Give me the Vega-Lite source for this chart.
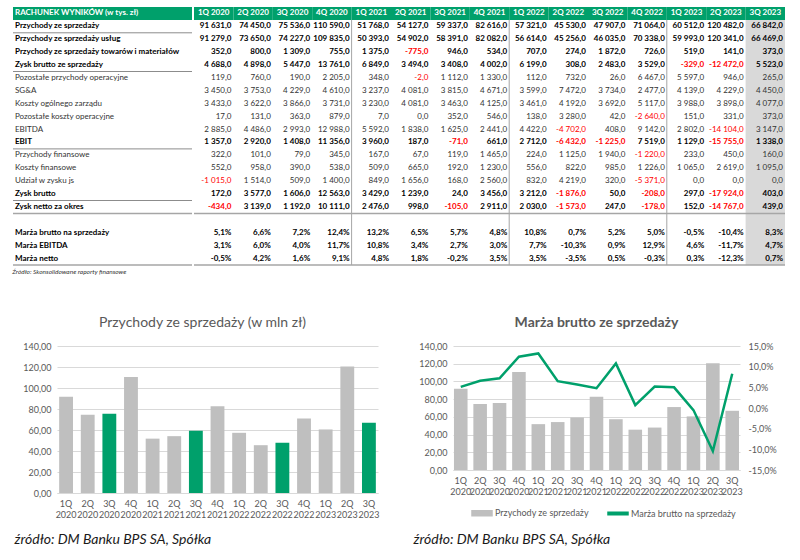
{
  "$schema": "https://vega.github.io/schema/vega-lite/v6.json",
  "padding": {"left": 12, "top": 7, "right": 0, "bottom": 0},
  "background": "white",
  "datasets": {
    "tbl": [
      {"item": "Przychody ze sprzedaży", "1Q 2020": "91 631,0", "2Q 2020": "74 450,0", "3Q 2020": "75 536,0", "4Q 2020": "110 590,0", "1Q 2021": "51 768,0", "2Q 2021": "54 127,0", "3Q 2021": "59 337,0", "4Q 2021": "82 616,0", "1Q 2022": "57 321,0", "2Q 2022": "45 530,0", "3Q 2022": "47 907,0", "4Q 2022": "71 064,0", "1Q 2023": "60 512,0", "2Q 2023": "120 482,0", "3Q 2023": "66 842,0"},
      {"item": "Przychody ze sprzedaży usług", "1Q 2020": "91 279,0", "2Q 2020": "73 650,0", "3Q 2020": "74 227,0", "4Q 2020": "109 835,0", "1Q 2021": "50 393,0", "2Q 2021": "54 902,0", "3Q 2021": "58 391,0", "4Q 2021": "82 082,0", "1Q 2022": "56 614,0", "2Q 2022": "45 256,0", "3Q 2022": "46 035,0", "4Q 2022": "70 338,0", "1Q 2023": "59 993,0", "2Q 2023": "120 341,0", "3Q 2023": "66 469,0"},
      {"item": "Przychody ze sprzedaży towarów i materiałów", "1Q 2020": "352,0", "2Q 2020": "800,0", "3Q 2020": "1 309,0", "4Q 2020": "755,0", "1Q 2021": "1 375,0", "2Q 2021": "-775,0", "3Q 2021": "946,0", "4Q 2021": "534,0", "1Q 2022": "707,0", "2Q 2022": "274,0", "3Q 2022": "1 872,0", "4Q 2022": "726,0", "1Q 2023": "519,0", "2Q 2023": "141,0", "3Q 2023": "373,0"},
      {"item": "Zysk brutto ze sprzedaży", "1Q 2020": "4 688,0", "2Q 2020": "4 898,0", "3Q 2020": "5 447,0", "4Q 2020": "13 761,0", "1Q 2021": "6 849,0", "2Q 2021": "3 494,0", "3Q 2021": "3 408,0", "4Q 2021": "4 002,0", "1Q 2022": "6 199,0", "2Q 2022": "308,0", "3Q 2022": "2 483,0", "4Q 2022": "3 529,0", "1Q 2023": "-329,0", "2Q 2023": "-12 472,0", "3Q 2023": "5 523,0"},
      {"item": "Pozostałe przychody operacyjne", "1Q 2020": "119,0", "2Q 2020": "760,0", "3Q 2020": "190,0", "4Q 2020": "2 205,0", "1Q 2021": "348,0", "2Q 2021": "-2,0", "3Q 2021": "1 112,0", "4Q 2021": "1 330,0", "1Q 2022": "112,0", "2Q 2022": "732,0", "3Q 2022": "26,0", "4Q 2022": "6 467,0", "1Q 2023": "5 597,0", "2Q 2023": "946,0", "3Q 2023": "265,0"},
      {"item": "SG&A", "1Q 2020": "3 450,0", "2Q 2020": "3 753,0", "3Q 2020": "4 229,0", "4Q 2020": "4 610,0", "1Q 2021": "3 237,0", "2Q 2021": "4 081,0", "3Q 2021": "3 815,0", "4Q 2021": "4 671,0", "1Q 2022": "3 599,0", "2Q 2022": "7 472,0", "3Q 2022": "3 734,0", "4Q 2022": "2 477,0", "1Q 2023": "4 139,0", "2Q 2023": "4 229,0", "3Q 2023": "4 450,0"},
      {"item": "Koszty ogólnego zarządu", "1Q 2020": "3 433,0", "2Q 2020": "3 622,0", "3Q 2020": "3 866,0", "4Q 2020": "3 731,0", "1Q 2021": "3 230,0", "2Q 2021": "4 081,0", "3Q 2021": "3 463,0", "4Q 2021": "4 125,0", "1Q 2022": "3 461,0", "2Q 2022": "4 192,0", "3Q 2022": "3 692,0", "4Q 2022": "5 117,0", "1Q 2023": "3 988,0", "2Q 2023": "3 898,0", "3Q 2023": "4 077,0"},
      {"item": "Pozostałe koszty operacyjne", "1Q 2020": "17,0", "2Q 2020": "131,0", "3Q 2020": "363,0", "4Q 2020": "879,0", "1Q 2021": "7,0", "2Q 2021": "0,0", "3Q 2021": "352,0", "4Q 2021": "546,0", "1Q 2022": "138,0", "2Q 2022": "3 280,0", "3Q 2022": "42,0", "4Q 2022": "-2 640,0", "1Q 2023": "151,0", "2Q 2023": "331,0", "3Q 2023": "373,0"},
      {"item": "EBITDA", "1Q 2020": "2 885,0", "2Q 2020": "4 486,0", "3Q 2020": "2 993,0", "4Q 2020": "12 988,0", "1Q 2021": "5 592,0", "2Q 2021": "1 838,0", "3Q 2021": "1 625,0", "4Q 2021": "2 441,0", "1Q 2022": "4 422,0", "2Q 2022": "-4 702,0", "3Q 2022": "408,0", "4Q 2022": "9 142,0", "1Q 2023": "2 802,0", "2Q 2023": "-14 104,0", "3Q 2023": "3 147,0"},
      {"item": "EBIT", "1Q 2020": "1 357,0", "2Q 2020": "2 920,0", "3Q 2020": "1 408,0", "4Q 2020": "11 356,0", "1Q 2021": "3 960,0", "2Q 2021": "187,0", "3Q 2021": "-71,0", "4Q 2021": "661,0", "1Q 2022": "2 712,0", "2Q 2022": "-6 432,0", "3Q 2022": "-1 225,0", "4Q 2022": "7 519,0", "1Q 2023": "1 129,0", "2Q 2023": "-15 755,0", "3Q 2023": "1 338,0"},
      {"item": "Przychody finansowe", "1Q 2020": "322,0", "2Q 2020": "101,0", "3Q 2020": "79,0", "4Q 2020": "345,0", "1Q 2021": "167,0", "2Q 2021": "67,0", "3Q 2021": "119,0", "4Q 2021": "1 465,0", "1Q 2022": "224,0", "2Q 2022": "1 125,0", "3Q 2022": "1 940,0", "4Q 2022": "-1 220,0", "1Q 2023": "233,0", "2Q 2023": "450,0", "3Q 2023": "160,0"},
      {"item": "Koszty finansowe", "1Q 2020": "552,0", "2Q 2020": "958,0", "3Q 2020": "390,0", "4Q 2020": "538,0", "1Q 2021": "509,0", "2Q 2021": "665,0", "3Q 2021": "192,0", "4Q 2021": "1 230,0", "1Q 2022": "556,0", "2Q 2022": "822,0", "3Q 2022": "985,0", "4Q 2022": "1 226,0", "1Q 2023": "1 065,0", "2Q 2023": "2 619,0", "3Q 2023": "1 095,0"},
      {"item": "Udział w zysku js", "1Q 2020": "-1 015,0", "2Q 2020": "1 514,0", "3Q 2020": "509,0", "4Q 2020": "1 400,0", "1Q 2021": "849,0", "2Q 2021": "1 656,0", "3Q 2021": "168,0", "4Q 2021": "2 560,0", "1Q 2022": "832,0", "2Q 2022": "4 219,0", "3Q 2022": "320,0", "4Q 2022": "-5 371,0", "1Q 2023": "0,0", "2Q 2023": "0,0", "3Q 2023": "0,0"},
      {"item": "Zysk brutto", "1Q 2020": "172,0", "2Q 2020": "3 577,0", "3Q 2020": "1 606,0", "4Q 2020": "12 563,0", "1Q 2021": "3 429,0", "2Q 2021": "1 239,0", "3Q 2021": "24,0", "4Q 2021": "3 456,0", "1Q 2022": "3 212,0", "2Q 2022": "-1 876,0", "3Q 2022": "50,0", "4Q 2022": "-208,0", "1Q 2023": "297,0", "2Q 2023": "-17 924,0", "3Q 2023": "403,0"},
      {"item": "Zysk netto za okres", "1Q 2020": "-434,0", "2Q 2020": "3 139,0", "3Q 2020": "1 192,0", "4Q 2020": "10 111,0", "1Q 2021": "2 476,0", "2Q 2021": "998,0", "3Q 2021": "-105,0", "4Q 2021": "2 911,0", "1Q 2022": "2 030,0", "2Q 2022": "-1 573,0", "3Q 2022": "247,0", "4Q 2022": "-178,0", "1Q 2023": "152,0", "2Q 2023": "-14 767,0", "3Q 2023": "439,0"},
      {"item": "Marża brutto na sprzedaży", "1Q 2020": "5,1%", "2Q 2020": "6,6%", "3Q 2020": "7,2%", "4Q 2020": "12,4%", "1Q 2021": "13,2%", "2Q 2021": "6,5%", "3Q 2021": "5,7%", "4Q 2021": "4,8%", "1Q 2022": "10,8%", "2Q 2022": "0,7%", "3Q 2022": "5,2%", "4Q 2022": "5,0%", "1Q 2023": "-0,5%", "2Q 2023": "-10,4%", "3Q 2023": "8,3%"},
      {"item": "Marża EBITDA", "1Q 2020": "3,1%", "2Q 2020": "6,0%", "3Q 2020": "4,0%", "4Q 2020": "11,7%", "1Q 2021": "10,8%", "2Q 2021": "3,4%", "3Q 2021": "2,7%", "4Q 2021": "3,0%", "1Q 2022": "7,7%", "2Q 2022": "-10,3%", "3Q 2022": "0,9%", "4Q 2022": "12,9%", "1Q 2023": "4,6%", "2Q 2023": "-11,7%", "3Q 2023": "4,7%"},
      {"item": "Marża netto", "1Q 2020": "-0,5%", "2Q 2020": "4,2%", "3Q 2020": "1,6%", "4Q 2020": "9,1%", "1Q 2021": "4,8%", "2Q 2021": "1,8%", "3Q 2021": "-0,2%", "4Q 2021": "3,5%", "1Q 2022": "3,5%", "2Q 2022": "-3,5%", "3Q 2022": "0,5%", "4Q 2022": "-0,3%", "1Q 2023": "0,3%", "2Q 2023": "-12,3%", "3Q 2023": "0,7%"}
    ],
    "q": [
      {"q": "1Q 2020", "rev": 91.631, "m": 0.051},
      {"q": "2Q 2020", "rev": 74.45, "m": 0.066},
      {"q": "3Q 2020", "rev": 75.536, "m": 0.072},
      {"q": "4Q 2020", "rev": 110.59, "m": 0.124},
      {"q": "1Q 2021", "rev": 51.768, "m": 0.132},
      {"q": "2Q 2021", "rev": 54.127, "m": 0.065},
      {"q": "3Q 2021", "rev": 59.337, "m": 0.057},
      {"q": "4Q 2021", "rev": 82.616, "m": 0.048},
      {"q": "1Q 2022", "rev": 57.321, "m": 0.108},
      {"q": "2Q 2022", "rev": 45.53, "m": 0.007},
      {"q": "3Q 2022", "rev": 47.907, "m": 0.052},
      {"q": "4Q 2022", "rev": 71.064, "m": 0.050},
      {"q": "1Q 2023", "rev": 60.512, "m": -0.005},
      {"q": "2Q 2023", "rev": 120.482, "m": -0.104},
      {"q": "3Q 2023", "rev": 66.842, "m": 0.083}
    ]
  },
  "spacing": 40,
  "vconcat": [
    {
      "spacing": 0,
      "hconcat": [
        {
          "width": 179,
          "height": 258,
          "data": {"name": "tbl"},
          "title": {"text": "Źródło: Skonsolidowane raporty finansowe", "orient": "bottom", "anchor": "start", "fontSize": 6.5, "fontStyle": "italic", "fontWeight": "normal", "color": "#333333", "offset": 3},
          "encoding": {
            "y": {"field": "item", "type": "nominal", "axis": null,
                  "scale": {"paddingInner": 0, "paddingOuter": 0, "domain": ["RACHUNEK WYNIKÓW (w tys. zł)", "Przychody ze sprzedaży", "Przychody ze sprzedaży usług", "Przychody ze sprzedaży towarów i materiałów", "Zysk brutto ze sprzedaży", "Pozostałe przychody operacyjne", "SG&A", "Koszty ogólnego zarządu", "Pozostałe koszty operacyjne", "EBITDA", "EBIT", "Przychody finansowe", "Koszty finansowe", "Udział w zysku js", "Zysk brutto", "Zysk netto za okres", " ", "Marża brutto na sprzedaży", "Marża EBITDA", "Marża netto"]}}
          },
          "layer": [
            {
              "transform": [{"filter": "datum.item === 'Przychody ze sprzedaży'"}],
              "mark": {"type": "rect", "color": "#00a06b"},
              "encoding": {"y": {"datum": "RACHUNEK WYNIKÓW (w tys. zł)", "type": "nominal"}, "x": {"value": 0}, "x2": {"value": "width"}}
            },
            {
              "transform": [{"filter": "datum.item === 'Przychody ze sprzedaży'"}],
              "mark": {"type": "text", "align": "left", "color": "white", "fontWeight": "bold", "fontSize": 8, "limit": 170},
              "encoding": {"y": {"datum": "RACHUNEK WYNIKÓW (w tys. zł)", "type": "nominal"}, "x": {"value": 2}, "text": {"value": "RACHUNEK WYNIKÓW (w tys. zł)"}}
            },
            {
              "transform": [{"filter": "indexof(['Przychody ze sprzedaży','Zysk brutto ze sprzedaży','EBIT','Zysk brutto'], datum.item) >= 0"}],
              "mark": {"type": "rule", "color": "#8c8c8c", "strokeWidth": 1},
              "encoding": {"y": {"field": "item", "type": "nominal", "bandPosition": 1}, "x": {"value": 0}, "x2": {"value": "width"}}
            },
            {
              "transform": [{"filter": "indexof(['Zysk netto za okres','Marża netto'], datum.item) >= 0"}],
              "mark": {"type": "rule", "color": "#a6a6a6", "strokeWidth": 1.5},
              "encoding": {"y": {"field": "item", "type": "nominal", "bandPosition": 1}, "x": {"value": 0}, "x2": {"value": "width"}}
            },
            {
              "transform": [{"filter": "indexof(['Przychody ze sprzedaży','Przychody ze sprzedaży usług','Przychody ze sprzedaży towarów i materiałów','Zysk brutto ze sprzedaży','EBIT','Zysk brutto','Zysk netto za okres','Marża brutto na sprzedaży','Marża EBITDA','Marża netto'], datum.item) >= 0"}],
              "mark": {"type": "text", "align": "left", "fontWeight": "bold", "fontSize": 8, "color": "#000000", "limit": 177},
              "encoding": {"x": {"value": 2}, "text": {"field": "item"}}
            },
            {
              "transform": [{"filter": "indexof(['Przychody ze sprzedaży','Przychody ze sprzedaży usług','Przychody ze sprzedaży towarów i materiałów','Zysk brutto ze sprzedaży','EBIT','Zysk brutto','Zysk netto za okres','Marża brutto na sprzedaży','Marża EBITDA','Marża netto'], datum.item) < 0"}],
              "mark": {"type": "text", "align": "left", "fontWeight": "normal", "fontSize": 8, "color": "#333333", "limit": 177},
              "encoding": {"x": {"value": 2}, "text": {"field": "item"}}
            }
          ]
        },
        {
          "width": 591,
          "height": 258,
          "data": {"name": "tbl"},
          "transform": [{"fold": ["1Q 2020", "2Q 2020", "3Q 2020", "4Q 2020", "1Q 2021", "2Q 2021", "3Q 2021", "4Q 2021", "1Q 2022", "2Q 2022", "3Q 2022", "4Q 2022", "1Q 2023", "2Q 2023", "3Q 2023"], "as": ["col", "v"]}],
          "encoding": {
            "x": {"field": "col", "type": "nominal", "axis": null,
                  "scale": {"paddingInner": 0, "paddingOuter": 0, "domain": ["1Q 2020", "2Q 2020", "3Q 2020", "4Q 2020", "1Q 2021", "2Q 2021", "3Q 2021", "4Q 2021", "1Q 2022", "2Q 2022", "3Q 2022", "4Q 2022", "1Q 2023", "2Q 2023", "3Q 2023"]}},
            "y": {"field": "item", "type": "nominal", "axis": null,
                  "scale": {"paddingInner": 0, "paddingOuter": 0, "domain": ["RACHUNEK WYNIKÓW (w tys. zł)", "Przychody ze sprzedaży", "Przychody ze sprzedaży usług", "Przychody ze sprzedaży towarów i materiałów", "Zysk brutto ze sprzedaży", "Pozostałe przychody operacyjne", "SG&A", "Koszty ogólnego zarządu", "Pozostałe koszty operacyjne", "EBITDA", "EBIT", "Przychody finansowe", "Koszty finansowe", "Udział w zysku js", "Zysk brutto", "Zysk netto za okres", " ", "Marża brutto na sprzedaży", "Marża EBITDA", "Marża netto"]}}
          },
          "layer": [
            {
              "transform": [{"filter": "datum.col === '3Q 2023' && datum.item === 'Przychody ze sprzedaży'"}],
              "mark": {"type": "rect", "color": "#d9d9d9"},
              "encoding": {"y": {"value": 0}, "y2": {"value": "height"}}
            },
            {
              "transform": [{"filter": "datum.item === 'Przychody ze sprzedaży'"}],
              "mark": {"type": "rect", "color": "#00a06b"},
              "encoding": {"y": {"datum": "RACHUNEK WYNIKÓW (w tys. zł)", "type": "nominal"}}
            },
            {
              "transform": [{"filter": "datum.item === 'Przychody ze sprzedaży'"}],
              "mark": {"type": "text", "color": "white", "fontWeight": "bold", "fontSize": 8},
              "encoding": {"y": {"datum": "RACHUNEK WYNIKÓW (w tys. zł)", "type": "nominal"}, "text": {"field": "col"}}
            },
            {
              "transform": [{"filter": "datum.item === 'Przychody ze sprzedaży' && indexof(['4Q 2020','4Q 2021','4Q 2022'], datum.col) >= 0"}],
              "mark": {"type": "rule", "color": "#a6a6a6", "strokeWidth": 1},
              "encoding": {"x": {"field": "col", "type": "nominal", "bandPosition": 1}, "y": {"datum": "Przychody ze sprzedaży", "type": "nominal", "bandPosition": 0}, "y2": {"value": "height"}}
            },
            {
              "transform": [{"filter": "datum.col === '1Q 2020' && indexof(['Zysk netto za okres','Marża netto'], datum.item) >= 0"}],
              "mark": {"type": "rule", "color": "#a6a6a6", "strokeWidth": 1.5},
              "encoding": {"y": {"field": "item", "type": "nominal", "bandPosition": 1}, "x": {"value": 0}, "x2": {"value": "width"}}
            },
            {
              "transform": [{"filter": "indexof(['Przychody ze sprzedaży','Przychody ze sprzedaży usług','Przychody ze sprzedaży towarów i materiałów','Zysk brutto ze sprzedaży','EBIT','Zysk brutto','Zysk netto za okres','Marża brutto na sprzedaży','Marża EBITDA','Marża netto'], datum.item) >= 0"}],
              "mark": {"type": "text", "align": "right", "dx": -2, "fontWeight": "bold", "fontSize": 8},
              "encoding": {
                "x": {"field": "col", "type": "nominal", "bandPosition": 1},
                "text": {"field": "v"},
                "color": {"condition": {"test": "substring(datum.v,0,1) === '-' && indexof(datum.v,'%') < 0", "value": "#ff0000"}, "value": "#000000"}
              }
            },
            {
              "transform": [{"filter": "indexof(['Przychody ze sprzedaży','Przychody ze sprzedaży usług','Przychody ze sprzedaży towarów i materiałów','Zysk brutto ze sprzedaży','EBIT','Zysk brutto','Zysk netto za okres','Marża brutto na sprzedaży','Marża EBITDA','Marża netto'], datum.item) < 0"}],
              "mark": {"type": "text", "align": "right", "dx": -2, "fontWeight": "normal", "fontSize": 8},
              "encoding": {
                "x": {"field": "col", "type": "nominal", "bandPosition": 1},
                "text": {"field": "v"},
                "color": {"condition": {"test": "substring(datum.v,0,1) === '-' && indexof(datum.v,'%') < 0", "value": "#ff0000"}, "value": "#333333"}
              }
            }
          ]
        }
      ]
    },
    {
      "spacing": 0,
      "hconcat": [
        {
          "width": 1,
          "height": 1,
          "data": {"values": []},
          "mark": {"type": "point", "opacity": 0},
          "encoding": {}
        },
        {
          "spacing": 34,
          "hconcat": [
            {
              "width": 321,
              "height": 147,
              "data": {"name": "q"},
              "title": {"text": "Przychody ze sprzedaży (w mln zł)", "fontSize": 14, "fontWeight": "normal", "color": "#595959", "dx": -15, "offset": 12},
              "mark": {"type": "bar"},
              "encoding": {
                "x": {"field": "q", "type": "nominal", "sort": null,
                      "scale": {"paddingInner": 0.36, "paddingOuter": 0.1},
                      "axis": {"labelAngle": 0, "labelExpr": "split(datum.label, ' ')", "labelFontSize": 9, "labelColor": "#595959", "labelLineHeight": 11, "ticks": false, "domainColor": "#d9d9d9", "labelPadding": 6,
                               "title": "źródło: DM Banku BPS SA, Spółka", "titleFontSize": 14, "titleFontStyle": "italic", "titleFontWeight": "normal", "titleColor": "#1a1a1a", "titleAnchor": "start", "titleAlign": "left", "titleX": -43, "titleY": 39}},
                "y": {"field": "rev", "type": "quantitative", "scale": {"domain": [0, 140]},
                      "axis": {"title": null, "values": [0, 20, 40, 60, 80, 100, 120, 140], "format": ".2f", "labelFontSize": 9, "labelColor": "#595959", "ticks": false, "domain": false, "gridColor": "#d9d9d9", "labelPadding": 6}},
                "color": {"condition": {"test": "indexof(datum.q, '3Q') === 0", "value": "#00a06b"}, "value": "#bfbfbf"}
              }
            },
            {
              "width": 287,
              "height": 124,
              "data": {"name": "q"},
              "title": {"text": "Marża brutto ze sprzedaży", "fontSize": 14, "fontWeight": "bold", "color": "#595959", "offset": 12},
              "encoding": {
                "x": {"field": "q", "type": "nominal", "sort": null,
                      "scale": {"paddingInner": 0.3, "paddingOuter": 0.05},
                      "axis": {"labelAngle": 0, "labelExpr": "split(datum.label, ' ')", "labelFontSize": 9, "labelColor": "#595959", "labelLineHeight": 11, "ticks": false, "domainColor": "#d9d9d9", "labelPadding": 6,
                               "title": "źródło: DM Banku BPS SA, Spółka", "titleFontSize": 14, "titleFontStyle": "italic", "titleFontWeight": "normal", "titleColor": "#1a1a1a", "titleAnchor": "start", "titleAlign": "left", "titleX": -40, "titleY": 62}}
              },
              "layer": [
                {
                  "mark": {"type": "bar"},
                  "encoding": {
                    "y": {"field": "rev", "type": "quantitative", "scale": {"domain": [0, 140]},
                          "axis": {"title": null, "values": [0, 20, 40, 60, 80, 100, 120, 140], "format": ".2f", "labelFontSize": 9, "labelColor": "#595959", "ticks": false, "domain": false, "gridColor": "#d9d9d9", "labelPadding": 6}},
                    "color": {"datum": "Przychody ze sprzedaży", "type": "nominal",
                              "scale": {"domain": ["Przychody ze sprzedaży", "Marża brutto na sprzedaży"], "range": ["#bfbfbf", "#00a06b"]},
                              "legend": {"orient": "none", "legendX": 458, "legendY": 495, "direction": "horizontal", "title": null, "labelFontSize": 9, "labelColor": "#595959", "symbolSize": 400, "columnPadding": 16, "labelOffset": 2,
                                         "encode": {"symbols": {"update": {
                                           "shape": {"signal": "datum.value === 'Przychody ze sprzedaży' ? 'M-1,-0.25H1V0.25H-1Z' : 'M-1,-0.12H1V0.12H-1Z'"},
                                           "fill": {"signal": "datum.value === 'Przychody ze sprzedaży' ? '#bfbfbf' : '#00a06b'"},
                                           "stroke": {"value": "transparent"},
                                           "opacity": {"value": 1}}}}}}
                  }
                },
                {
                  "mark": {"type": "line", "strokeWidth": 2.5},
                  "encoding": {
                    "y": {"field": "m", "type": "quantitative", "scale": {"domain": [-0.15, 0.15]},
                          "axis": {"orient": "right", "title": null, "values": [-0.15, -0.1, -0.05, 0, 0.05, 0.1, 0.15], "format": ".1%", "grid": false, "labelFontSize": 9, "labelColor": "#595959", "ticks": false, "domain": false, "labelPadding": 8}},
                    "color": {"datum": "Marża brutto na sprzedaży", "type": "nominal"}
                  }
                }
              ],
              "resolve": {"scale": {"y": "independent"}}
            }
          ]
        }
      ]
    }
  ],
  "config": {
    "font": "Lato",
    "view": {"stroke": null},
    "locale": {"number": {"decimal": ",", "thousands": " ", "grouping": [3], "currency": ["", ""], "minus": "-"}}
  }
}
